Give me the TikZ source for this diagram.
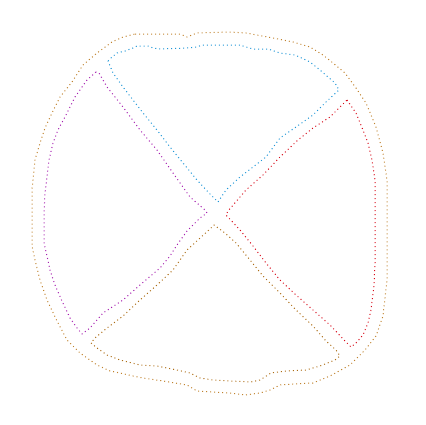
\documentclass[tikz,border=0pt]{standalone}
\usepackage{xcolor}
\usepackage{tikz}

\definecolor{ringcol}{RGB}{192,130,45}
\definecolor{topcol}{RGB}{30,150,215}
\definecolor{leftcol}{RGB}{165,30,175}
\definecolor{rightcol}{RGB}{215,10,25}
\definecolor{bottomcol}{RGB}{172,108,20}

\begin{document}
\begin{tikzpicture}[x=0.6pt, y=-0.6pt,
dotline/.style={line width=0.6pt, dash pattern=on 0.6pt off 1.8pt, line join=round},
ring/.style={dotline, draw=ringcol},
topwedge/.style={dotline, draw=topcol},
leftwedge/.style={dotline, draw=leftcol},
rightwedge/.style={dotline, draw=rightcol},
bottomwedge/.style={dotline, draw=bottomcol}
]
\useasboundingbox (0,0) rectangle (426,425);

% Outer ring
\draw[ring] (135,34) -- (180,34) -- (187,37) -- (197,33) -- (230,32) -- (246,33)
  -- (273,38) -- (293,42) -- (310,47) -- (323,55) -- (333,63) -- (345,73)
  -- (356,88) -- (366,103) -- (376,127) -- (383,153) -- (387,180) -- (387,213)
  -- (387,280) -- (383,316) -- (376,336) -- (365,350) -- (350,365) -- (330,376)
  -- (313,383) -- (293,384) -- (280,385) -- (270,390) -- (260,393) -- (245,395)
  -- (230,393) -- (213,392) -- (197,391) -- (187,385) -- (163,381) -- (143,378)
  -- (133,376) -- (120,373) -- (110,371) -- (97,365) -- (80,353) -- (67,340)
  -- (57,321) -- (47,300) -- (40,280) -- (35,260) -- (32,246) -- (32,190)
  -- (35,160) -- (40,143) -- (45,128) -- (52,113) -- (60,97) -- (72,82)
  -- (83,65) -- (97,53) -- (112,42) -- (123,37) -- cycle;

% Top wedge
\draw[topwedge] (108,61) -- (112,57) -- (117,53) -- (125,51) -- (133,48) -- (137,46)
  -- (148,46) -- (153,48) -- (160,49) -- (187,48) -- (197,47) -- (202,45)
  -- (240,45) -- (246,47) -- (253,49) -- (268,49) -- (280,53) -- (295,55)
  -- (310,62) -- (320,70) -- (328,77) -- (335,83) -- (339,90)
  -- (326,102) -- (313,115) -- (296,127) -- (280,138) -- (266,157) -- (253,167)
  -- (240,177) -- (226,190) -- (218,202)
  -- (209,193) -- (197,180) -- (183,163) -- (170,147) -- (157,130) -- (143,113)
  -- (133,100) -- (123,87) -- (113,73) -- cycle;

% Left wedge
\draw[leftwedge] (96,72) -- (87,80) -- (75,97) -- (67,113) -- (58,130) -- (53,143)
  -- (49,160) -- (47,177) -- (45,193) -- (44,213) -- (44,243) -- (47,256)
  -- (50,270) -- (55,285) -- (62,301) -- (70,318) -- (77,328) -- (82,334)
  -- (90,328) -- (103,313) -- (123,300) -- (140,285) -- (160,268) -- (170,256)
  -- (177,245) -- (187,231) -- (200,218) -- (207,213)
  -- (205,210) -- (190,197) -- (173,173) -- (157,150) -- (140,130) -- (123,107)
  -- (107,87) -- (99,73) -- cycle;

% Right wedge
\draw[rightwedge] (347,100) -- (356,113) -- (363,130) -- (368,143) -- (372,160)
  -- (375,180) -- (375,263) -- (374,285) -- (371,310) -- (368,323) -- (363,335)
  -- (356,343) -- (351,347)
  -- (345,341) -- (330,325) -- (313,310) -- (296,295) -- (280,280) -- (266,263)
  -- (253,246) -- (240,230) -- (226,215)
  -- (228,211) -- (246,190) -- (263,175) -- (280,157) -- (298,140) -- (313,128)
  -- (330,117) -- (340,107) -- cycle;

% Bottom wedge
\draw[bottomwedge] (91,343) -- (97,348) -- (107,355) -- (120,360) -- (140,365)
  -- (157,366) -- (167,368) -- (177,370) -- (190,373) -- (200,378) -- (213,380)
  -- (231,381) -- (251,382) -- (260,380) -- (271,373) -- (286,371) -- (306,370)
  -- (320,366) -- (335,360) -- (340,356)
  -- (336,350) -- (326,341) -- (313,326) -- (296,310) -- (280,293) -- (263,276)
  -- (250,260) -- (236,243) -- (225,233) -- (214,225)
  -- (211,228) -- (187,250) -- (173,270) -- (157,285) -- (140,300) -- (123,316)
  -- (107,328) -- (95,338) -- cycle;

\end{tikzpicture}
\end{document}
